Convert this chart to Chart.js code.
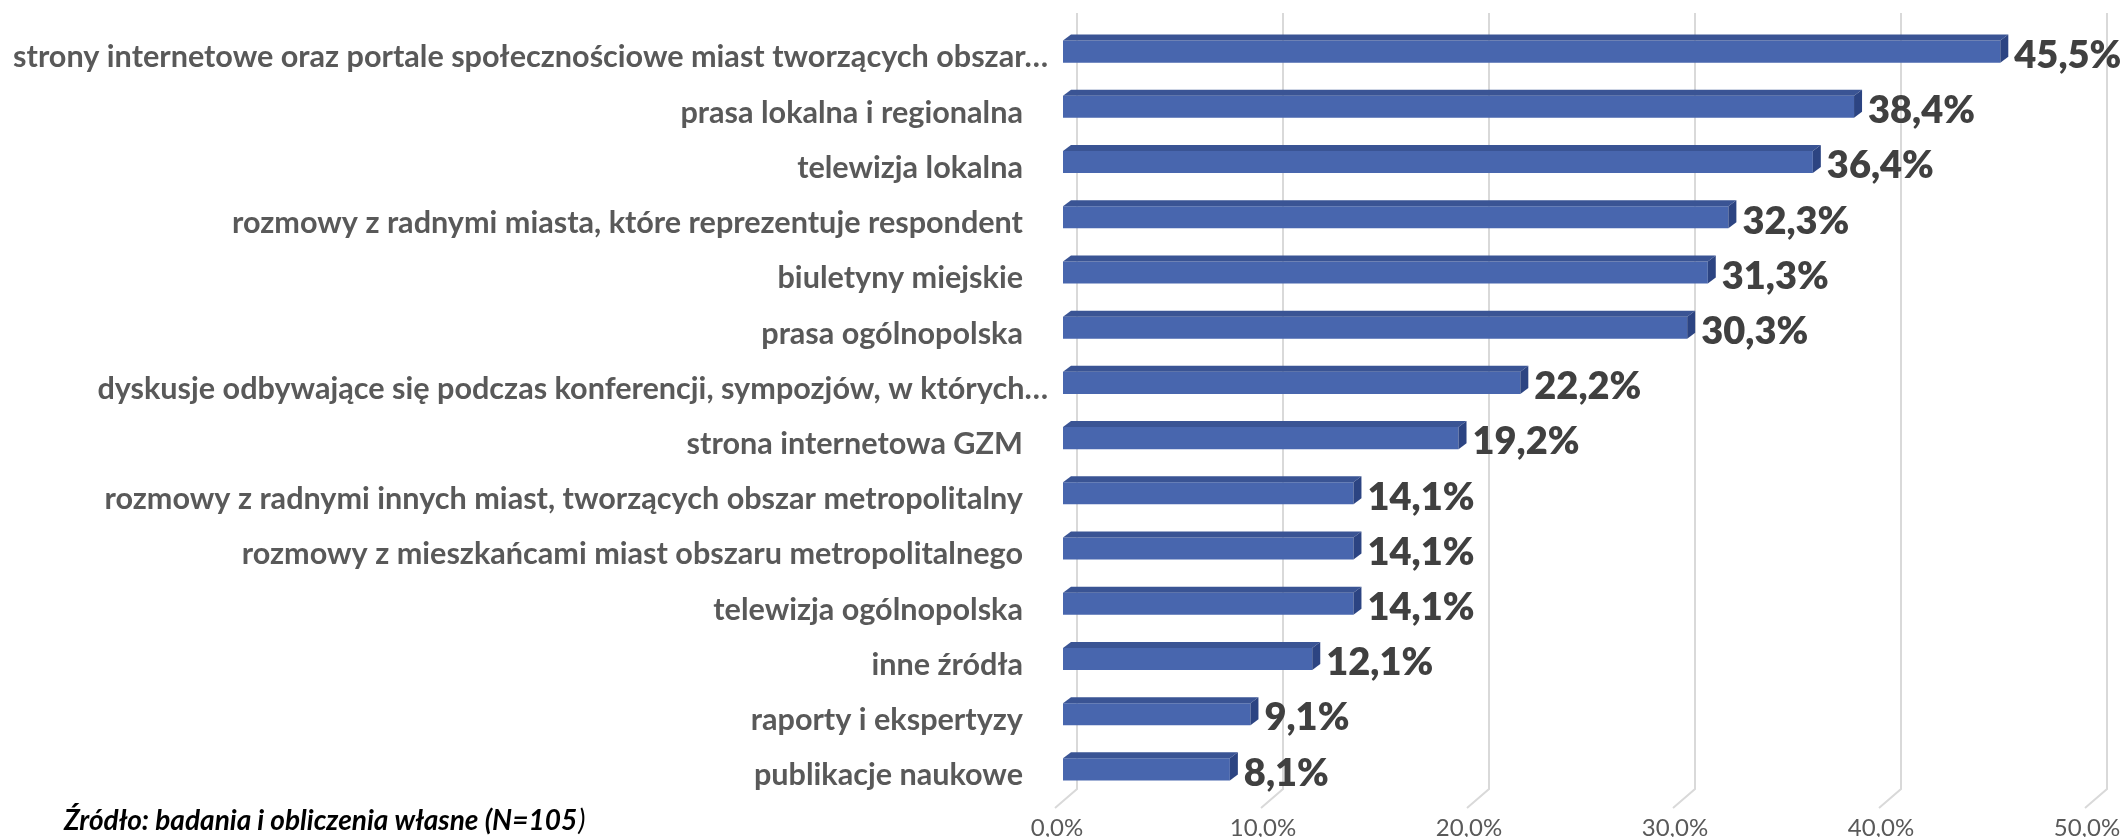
<!DOCTYPE html>
<html>
<head>
<meta charset="utf-8">
<script src="https://cdn.jsdelivr.net/npm/chart.js@4"></script>
<style>
  html, body { margin: 0; padding: 0; background: #ffffff; }
  #wrap { width: 2125px; height: 837px; position: relative; }
</style>
</head>
<body>
<div id="wrap"><canvas id="c"></canvas></div>
<script>
const categories = [
  "strony internetowe oraz portale społecznościowe miast tworzących obszar…",
  "prasa lokalna i regionalna",
  "telewizja lokalna",
  "rozmowy z radnymi miasta, które reprezentuje respondent",
  "biuletyny miejskie",
  "prasa ogólnopolska",
  "dyskusje odbywające się podczas konferencji, sympozjów, w których…",
  "strona internetowa GZM",
  "rozmowy z radnymi innych miast, tworzących obszar metropolitalny",
  "rozmowy z mieszkańcami miast obszaru metropolitalnego",
  "telewizja ogólnopolska",
  "inne źródła",
  "raporty i ekspertyzy",
  "publikacje naukowe"
];
const values = [45.5, 38.4, 36.4, 32.3, 31.3, 30.3, 22.2, 19.2, 14.1, 14.1, 14.1, 12.1, 9.1, 8.1];
const xTickValues = [0, 10, 20, 30, 40, 50];
const sourceText = "Źródło: badania i obliczenia własne (N=105";
const sourceTail = ")";

const fmt = v => v.toFixed(1).replace('.', ',') + '%';

const FRONT = '#4866ae';
const TOP = '#3a5494';
const SIDE = '#2c4482';
const DX = 8, DY = 6;

const deco = {
  id: 'deco',
  beforeDatasetsDraw(chart) {
    const ctx = chart.ctx;
    const xs = chart.scales.x;
    ctx.save();
    ctx.strokeStyle = '#d9d9d9';
    ctx.lineWidth = 2;
    xTickValues.forEach(v => {
      const xf = xs.getPixelForValue(v);
      const xb = xf + 14;
      ctx.beginPath();
      ctx.moveTo(xb, 13);
      ctx.lineTo(xb, 789);
      ctx.lineTo(xf - 8, 808);
      ctx.stroke();
    });
    ctx.restore();
  },
  afterDatasetsDraw(chart) {
    const ctx = chart.ctx;
    const meta = chart.getDatasetMeta(0);
    ctx.save();
    meta.data.forEach((bar, i) => {
      const x0 = bar.base, x1 = bar.x;
      const top = bar.y - bar.height / 2, bot = bar.y + bar.height / 2;
      ctx.fillStyle = TOP;
      ctx.beginPath();
      ctx.moveTo(x0, top);
      ctx.lineTo(x0 + DX, top - DY);
      ctx.lineTo(x1 + DX, top - DY);
      ctx.lineTo(x1, top);
      ctx.closePath();
      ctx.fill();
      ctx.fillStyle = SIDE;
      ctx.beginPath();
      ctx.moveTo(x1, top);
      ctx.lineTo(x1 + DX, top - DY);
      ctx.lineTo(x1 + DX, bot - DY);
      ctx.lineTo(x1, bot);
      ctx.closePath();
      ctx.fill();
      ctx.fillStyle = '#404040';
      ctx.font = '800 38px Lato';
      ctx.textAlign = 'left';
      ctx.textBaseline = 'middle';
      ctx.fillText(fmt(values[i]), x1 + DX + 6, bar.y + 4);
    });
    ctx.restore();
  },
  afterDraw(chart) {
    const ctx = chart.ctx;
    const ys = chart.scales.y;
    ctx.save();
    ctx.fillStyle = '#595959';
    ctx.font = 'bold 30.6px Lato';
    ctx.textAlign = 'right';
    ctx.textBaseline = 'middle';
    categories.forEach((c, i) => {
      const y = ys.getPixelForValue(i) + 6;
      const xr = c.endsWith('…') ? 1048 : 1023;
      ctx.fillText(c, xr, y);
    });
    ctx.fillStyle = '#000000';
    ctx.textAlign = 'left';
    ctx.font = 'italic bold 28px Lato';
    ctx.fillText(sourceText, 64, 821);
    const w = ctx.measureText(sourceText).width;
    ctx.font = 'italic 28px Lato';
    ctx.fillText(sourceTail, 64 + w + 1, 821);
    ctx.restore();
  }
};

function draw() {
  new Chart(document.getElementById('c'), {
    type: 'bar',
    data: {
      labels: categories,
      datasets: [{
        data: values,
        backgroundColor: FRONT,
        borderWidth: 0,
        categoryPercentage: 1,
        barPercentage: 0.4
      }]
    },
    options: {
      indexAxis: 'y',
      responsive: true,
      maintainAspectRatio: false,
      devicePixelRatio: 1,
      animation: false,
      layout: { padding: { top: 24, right: 32, left: 0, bottom: 0 } },
      plugins: { legend: { display: false }, tooltip: { enabled: false } },
      scales: {
        x: {
          type: 'linear',
          min: 0, max: 50,
          afterBuildTicks: s => { s.ticks = xTickValues.map(v => ({ value: v })); },
          afterFit: s => { s.height = 40; s.paddingLeft = 0; s.paddingRight = 0; },
          grid: { display: false, drawTicks: false },
          border: { display: false },
          ticks: {
            color: '#595959',
            font: { family: 'Lato', size: 24 },
            padding: 17,
            labelOffset: -6,
            maxRotation: 0,
            callback: v => fmt(v)
          }
        },
        y: {
          type: 'category',
          afterFit: s => { s.width = 1063; s.paddingTop = 0; s.paddingBottom = 0; },
          grid: { display: false, drawTicks: false },
          border: { display: false },
          ticks: { display: false }
        }
      }
    },
    plugins: [deco]
  });
}

Promise.all([
  document.fonts.load('bold 30.6px Lato'),
  document.fonts.load('800 38px Lato'),
  document.fonts.load('24px Lato'),
  document.fonts.load('italic bold 28px Lato'),
  document.fonts.load('italic 28px Lato')
]).then(draw, draw);
</script>
</body>
</html>
